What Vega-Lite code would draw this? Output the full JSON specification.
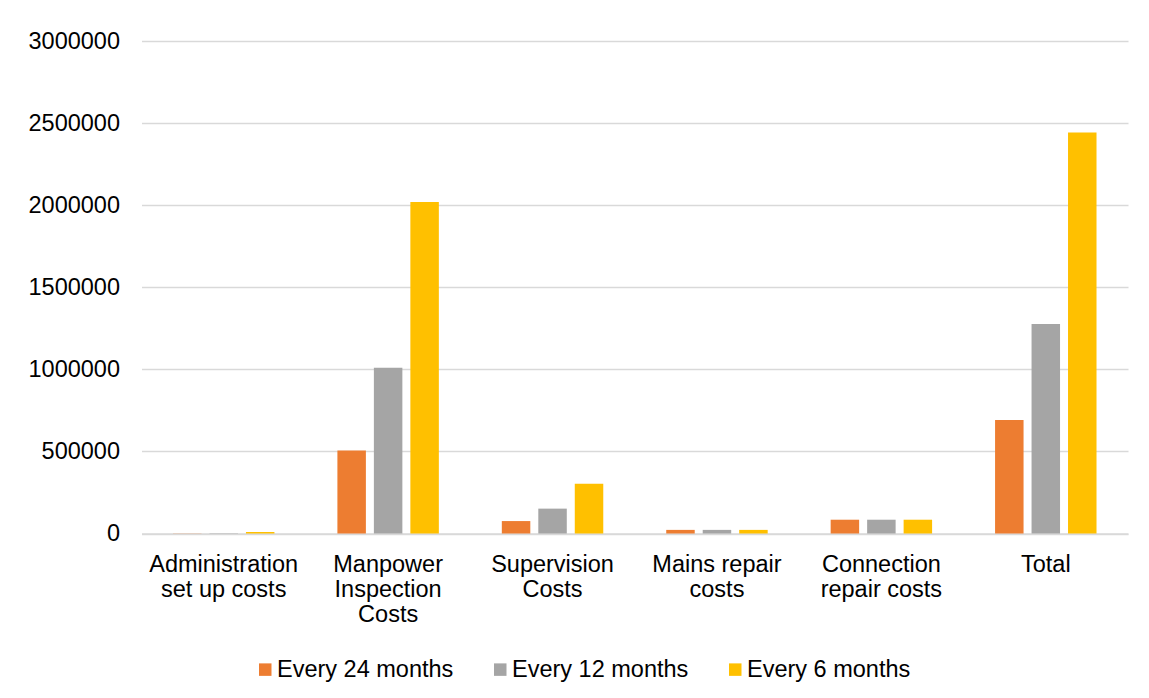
{
  "$schema": "https://vega.github.io/schema/vega-lite/v6.json",
  "width": 986.5,
  "height": 492.5,
  "autosize": {"type": "none"},
  "padding": {"left": 141.5, "top": 41, "right": 21, "bottom": 164.5},
  "background": "white",
  "data": {
    "values": [
      {"category": "Administration set up costs", "series": "Every 24 months", "value": 1000},
      {"category": "Administration set up costs", "series": "Every 12 months", "value": 2000},
      {"category": "Administration set up costs", "series": "Every 6 months", "value": 9000},
      {"category": "Manpower Inspection Costs", "series": "Every 24 months", "value": 505000},
      {"category": "Manpower Inspection Costs", "series": "Every 12 months", "value": 1010000},
      {"category": "Manpower Inspection Costs", "series": "Every 6 months", "value": 2020000},
      {"category": "Supervision Costs", "series": "Every 24 months", "value": 75750},
      {"category": "Supervision Costs", "series": "Every 12 months", "value": 151500},
      {"category": "Supervision Costs", "series": "Every 6 months", "value": 303000},
      {"category": "Mains repair costs", "series": "Every 24 months", "value": 22000},
      {"category": "Mains repair costs", "series": "Every 12 months", "value": 22000},
      {"category": "Mains repair costs", "series": "Every 6 months", "value": 22000},
      {"category": "Connection repair costs", "series": "Every 24 months", "value": 84000},
      {"category": "Connection repair costs", "series": "Every 12 months", "value": 84000},
      {"category": "Connection repair costs", "series": "Every 6 months", "value": 84000},
      {"category": "Total", "series": "Every 24 months", "value": 692000},
      {"category": "Total", "series": "Every 12 months", "value": 1276000},
      {"category": "Total", "series": "Every 6 months", "value": 2443000}
    ]
  },
  "mark": {"type": "bar"},
  "encoding": {
    "x": {
      "field": "category",
      "type": "nominal",
      "sort": ["Administration set up costs", "Manpower Inspection Costs", "Supervision Costs", "Mains repair costs", "Connection repair costs", "Total"],
      "scale": {"paddingInner": 0, "paddingOuter": 0},
      "axis": {
        "title": null,
        "labelAngle": 0,
        "labelBaseline": "top",
        "labelAlign": "center",
        "labelPadding": 19,
        "labelLineHeight": 25,
        "labelLimit": 0,
        "labelFont": "Liberation Sans",
        "labelFontSize": 23.5,
        "labelColor": "#000000",
        "ticks": false,
        "tickSize": 0,
        "domain": true,
        "domainColor": "#d9d9d9",
        "domainWidth": 1.7,
        "grid": false,
        "labelExpr": "datum.value == 'Administration set up costs' ? ['Administration', 'set up costs'] : datum.value == 'Manpower Inspection Costs' ? ['Manpower', 'Inspection', 'Costs'] : datum.value == 'Supervision Costs' ? ['Supervision', 'Costs'] : datum.value == 'Mains repair costs' ? ['Mains repair', 'costs'] : datum.value == 'Connection repair costs' ? ['Connection', 'repair costs'] : datum.label"
      }
    },
    "xOffset": {
      "field": "series",
      "type": "nominal",
      "sort": ["Every 24 months", "Every 12 months", "Every 6 months"],
      "scale": {"paddingInner": 0.219, "paddingOuter": 0.863}
    },
    "y": {
      "field": "value",
      "type": "quantitative",
      "scale": {"domain": [0, 3000000], "nice": false},
      "axis": {
        "title": null,
        "values": [0, 500000, 1000000, 1500000, 2000000, 2500000, 3000000],
        "format": "d",
        "labelFont": "Liberation Sans",
        "labelFontSize": 23.5,
        "labelColor": "#000000",
        "labelPadding": 22,
        "ticks": false,
        "tickSize": 0,
        "domain": false,
        "grid": true,
        "gridColor": "#d9d9d9",
        "gridWidth": 1.3
      }
    },
    "color": {
      "field": "series",
      "type": "nominal",
      "sort": ["Every 24 months", "Every 12 months", "Every 6 months"],
      "scale": {
        "domain": ["Every 24 months", "Every 12 months", "Every 6 months"],
        "range": ["#ED7D31", "#A5A5A5", "#FFC000"]
      },
      "legend": {
        "title": null,
        "orient": "none",
        "legendX": 112,
        "legendY": 616.5,
        "direction": "horizontal",
        "symbolType": "square",
        "symbolSize": 156,
        "symbolStrokeWidth": 0,
        "labelFont": "Liberation Sans",
        "labelFontSize": 23.5,
        "labelColor": "#000000",
        "labelOffset": 0,
        "columnPadding": 35,
        "padding": 0,
        "labelLimit": 0
      }
    }
  },
  "config": {
    "view": {"stroke": null}
  }
}
